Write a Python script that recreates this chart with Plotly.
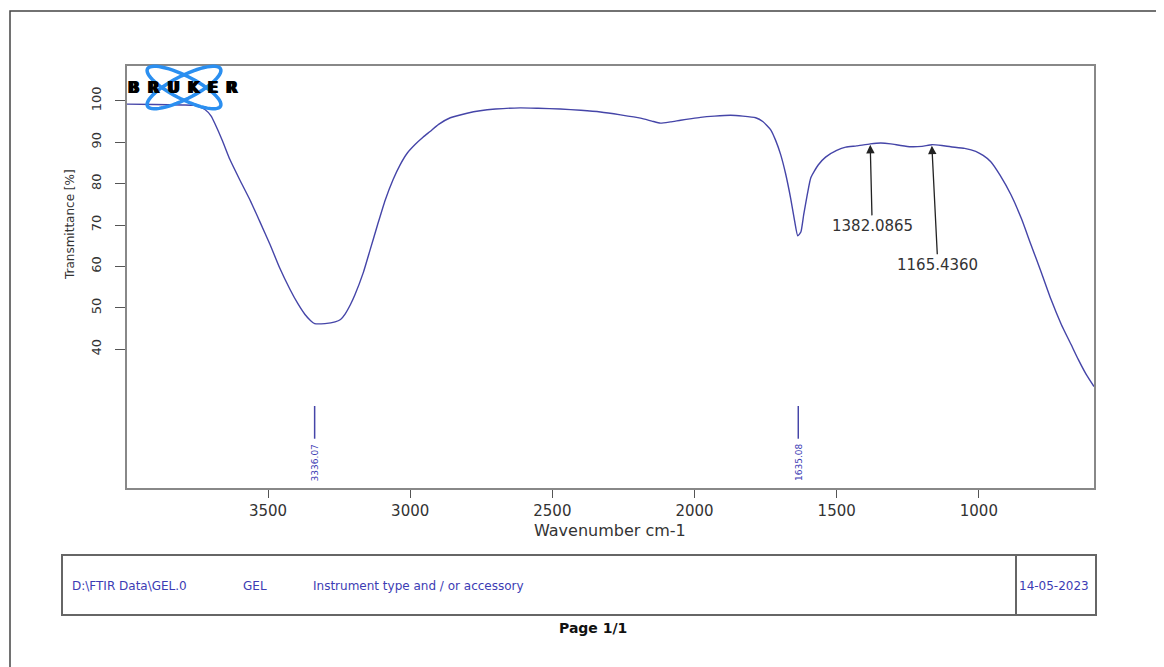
import numpy as np
import plotly.graph_objects as go

# ---- data ----
wavenumber = [3996, 3900, 3800, 3760, 3722, 3700, 3687, 3660, 3634, 3600, 3563, 3530, 3493,
              3460, 3423, 3395, 3370, 3350, 3336, 3300, 3264, 3245, 3229, 3210, 3194, 3165,
              3141, 3115, 3088, 3060, 3035, 3010, 2982, 2955, 2930, 2900, 2859, 2800, 2754,
              2700, 2613, 2550, 2472, 2400, 2331, 2260, 2190, 2150, 2120, 2085, 2049, 2010,
              1979, 1930, 1873, 1830, 1785, 1760, 1732, 1715, 1697, 1680, 1662, 1648, 1637,
              1626, 1616, 1603, 1591, 1565, 1539, 1500, 1468, 1430, 1382, 1345, 1310, 1275,
              1239, 1200, 1165, 1130, 1099, 1050, 1011, 985, 958, 925, 887, 850, 817, 780,
              746, 710, 676, 650, 623, 595]
transmittance = [99.2, 99.1, 99.0, 98.9, 97.9, 96.3, 94.5, 90.3, 85.8, 81.0, 76.0, 71.0, 65.3,
                 59.8, 54.5, 51.0, 48.4, 46.9, 46.2, 46.2, 46.6, 47.2, 48.5, 50.8, 53.2, 58.5,
                 64.0, 70.0, 76.0, 81.0, 84.6, 87.4, 89.5, 91.2, 92.6, 94.3, 95.9, 97.0, 97.6,
                 98.0, 98.3, 98.2, 98.0, 97.7, 97.3, 96.6, 95.8, 95.1, 94.6, 94.9, 95.3, 95.7,
                 96.0, 96.3, 96.5, 96.3, 95.9, 95.0, 93.0, 90.5, 87.0, 82.5, 76.5, 71.0, 67.4,
                 68.3, 72.5, 77.5, 81.4, 84.5, 86.4, 88.0, 88.8, 89.1, 89.6, 89.8, 89.6, 89.2,
                 88.9, 89.0, 89.4, 89.2, 88.9, 88.5, 87.8, 86.8, 85.3, 82.0, 77.3, 71.5, 65.3,
                 58.5, 52.0, 46.0, 41.2, 37.5, 34.0, 31.0]

peak_wn = [3336.07, 1635.08]
peak_labels = ["3336.07", "1635.08"]
ann_wn = [1382.0865, 1165.4360]
ann_T = [89.6, 89.4]
ann_labels = ["1382.0865", "1165.4360"]
x_ticks = [3500, 3000, 2500, 2000, 1500, 1000]
y_ticks = [40, 50, 60, 70, 80, 90, 100]
footer_texts = ["D:\\FTIR Data\\GEL.0", "GEL", "Instrument type and / or accessory"]
footer_date = "14-05-2023"

# ---- geometry helpers (reference pixel -> paper) ----
W, H = 1164, 667
L, R, T, B = 127, 1094, 66, 488
OFF = 8  # page body margin of the html
def px(x):
    return (x - L) / (R - L)
def py(y):
    return (B - y) / (B - T)

LINE_C = "#4545a8"
TXT_BLUE = "#3c3cb4"
FONT = "DejaVu Sans, Verdana, sans-serif"

fig = go.Figure()
fig.add_trace(go.Scatter(x=wavenumber, y=transmittance, mode="lines",
                         line=dict(color=LINE_C, width=1.4, shape="spline", smoothing=0.5),
                         hoverinfo="x+y", showlegend=False))

# peak marker lines
for wn in peak_wn:
    fig.add_trace(go.Scatter(x=[wn, wn], y=[26.3, 18.4], mode="lines",
                             line=dict(color=LINE_C, width=1.5), showlegend=False,
                             hoverinfo="skip"))

shapes = []
annotations = []

for wn, lab in zip(peak_wn, peak_labels):
    annotations.append(dict(x=wn, y=12.6, xref="x", yref="y", text=lab, showarrow=False,
                            textangle=-90, font=dict(family=FONT, size=9, color=TXT_BLUE)))

offs = [(2, 82), (6, 120)]
for wn, tv, lab, (ax, ay) in zip(ann_wn, ann_T, ann_labels, offs):
    annotations.append(dict(x=wn, y=tv, xref="x", yref="y", text=lab, showarrow=True,
                            arrowhead=2, arrowsize=1.3, arrowwidth=1.3, arrowcolor="#222",
                            ax=ax, ay=ay, standoff=1,
                            font=dict(family=FONT, size=15, color="#333")))

# axis titles (placed as in the reference)
annotations.append(dict(x=px(70), y=70, xref="paper", yref="y", text="Transmittance [%]",
                        textangle=-90, showarrow=False, xanchor="center", yanchor="middle",
                        font=dict(family=FONT, size=12, color="#333")))
annotations.append(dict(x=px(610), y=py(530), xref="paper", yref="paper",
                        text="Wavenumber cm-1", showarrow=False, xanchor="center",
                        yanchor="middle", font=dict(family=FONT, size=16, color="#333")))

# Bruker logo: two crossed ellipses + text
cx, cy = 184, 87.5
for ang in (27, -27):
    t = np.linspace(0, 2 * np.pi, 60)
    a, b = 41, 11.5
    th = np.deg2rad(ang)
    xs = cx + a * np.cos(t) * np.cos(th) - b * np.sin(t) * np.sin(th)
    ys = cy + a * np.cos(t) * np.sin(th) + b * np.sin(t) * np.cos(th)
    path = "M " + " L ".join(f"{px(x):.5f},{py(y):.5f}" for x, y in zip(xs, ys)) + " Z"
    shapes.append(dict(type="path", path=path, xref="paper", yref="paper",
                       line=dict(color="#2b8ff0", width=3.5), layer="above"))
sp = "\u00a0\u2009"
annotations.append(dict(x=px(183), y=py(88), xref="paper", yref="paper",
                        xanchor="center", yanchor="middle",
                        text="<b>" + sp.join("BRUKER") + "</b>", showarrow=False,
                        font=dict(family="DejaVu Sans, sans-serif", size=15, color="#000",
                                  shadow="1px 0 0 #000, -1px 0 0 #000")))

# footer box
shapes.append(dict(type="rect", xref="paper", yref="paper", x0=px(62), x1=px(1096),
                   y0=py(615), y1=py(555), line=dict(color="#666", width=2)))
shapes.append(dict(type="line", xref="paper", yref="paper", x0=px(1016), x1=px(1016),
                   y0=py(615), y1=py(555), line=dict(color="#666", width=2)))
for xpos, txt in zip([70, 241, 311], footer_texts):
    annotations.append(dict(x=px(xpos), y=py(586), xref="paper", yref="paper", text=txt,
                            showarrow=False, xanchor="left", yanchor="middle",
                            font=dict(family=FONT, size=12, color=TXT_BLUE)))
annotations.append(dict(x=px(1017), y=py(586), xref="paper", yref="paper", text=footer_date,
                        showarrow=False, xanchor="left", yanchor="middle",
                        font=dict(family=FONT, size=12, color=TXT_BLUE)))
annotations.append(dict(x=px(593), y=py(628), xref="paper", yref="paper", text="<b>Page 1/1</b>",
                        showarrow=False, xanchor="center", yanchor="middle",
                        font=dict(family=FONT, size=14, color="#111")))

# page border
shapes.append(dict(type="rect", xref="paper", yref="paper", x0=px(10), x1=px(1185),
                   y0=py(690), y1=py(11), line=dict(color="#444", width=1.5), layer="below"))

fig.update_layout(
    width=W, height=H, autosize=False,
    margin=dict(l=L - OFF, r=W - (R - OFF), t=T - OFF, b=H - (B - OFF)),
    paper_bgcolor="white", plot_bgcolor="white",
    shapes=shapes, annotations=annotations, showlegend=False,
    xaxis=dict(range=[3996, 595], tickvals=x_ticks, ticks="outside", ticklen=8,
               tickcolor="#555", showgrid=False, zeroline=False, showline=True,
               linecolor="#888", linewidth=2, mirror=True, ticklabelstandoff=0,
               tickfont=dict(family=FONT, size=15, color="#333")),
    yaxis=dict(range=[6.5, 108.4], tickvals=y_ticks, ticks="outside", ticklen=10,
               tickcolor="#555", showgrid=False, zeroline=False, showline=True,
               linecolor="#888", linewidth=2, mirror=True, tickangle=-90,
               ticklabelstandoff=9,
               tickfont=dict(family=FONT, size=13, color="#333")),
)

fig.write_html("out.html")
